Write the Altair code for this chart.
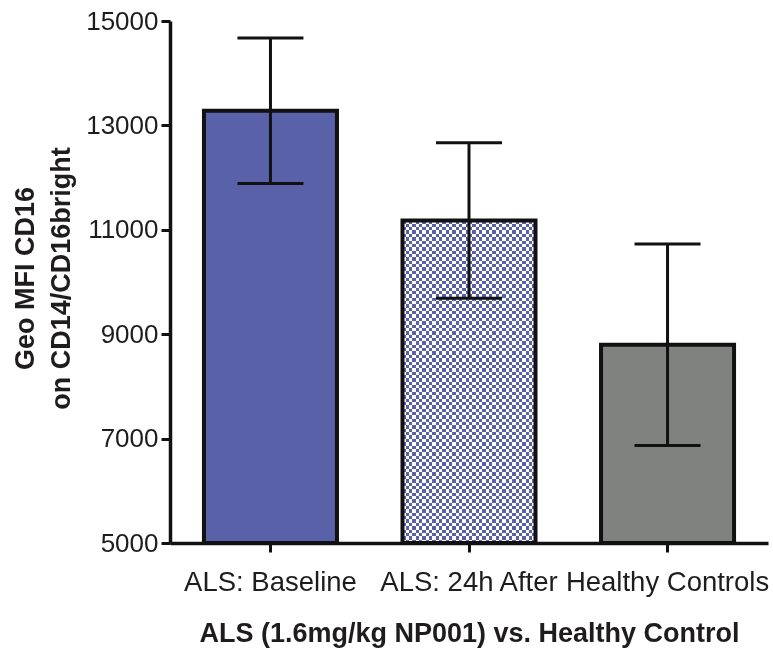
import altair as alt
import pandas as pd

# ---- data ----
categories = ["ALS: Baseline", "ALS: 24h After", "Healthy Controls"]
means = [13280, 11180, 8800]
errors = [1395, 1490, 1930]
y_ticks = [5000, 7000, 9000, 11000, 13000, 15000]

BLUE = "#5961A9"
GRAY = "#808280"
INK = "#1E1C1D"
FONT = "Liberation Sans"

df = pd.DataFrame({"group": categories, "mean": means, "err": errors})

W, H = 598, 522


def stripes(n, vertical):
    stops = []
    for i in range(n):
        c = "white" if i % 2 == 0 else "black"
        stops.append({"offset": i / n, "color": c})
        stops.append({"offset": (i + 1) / n, "color": c})
    g = {"gradient": "linear", "stops": stops}
    if vertical:
        g.update({"x1": 0, "x2": 1, "y1": 0, "y2": 0})
    else:
        g.update({"x1": 0, "x2": 0, "y1": 0, "y2": 1})
    return g


x_enc = alt.X(
    "group:N",
    sort=categories,
    title="ALS (1.6mg/kg NP001) vs. Healthy Control",
    scale=alt.Scale(paddingInner=0.33, paddingOuter=0.171),
    axis=alt.Axis(
        labelAngle=0,
        labelFontSize=27.5,
        labelPadding=16,
        labelLimit=0,
        labelFont=FONT,
        labelColor=INK,
        titleFont=FONT,
        titleFontSize=27,
        titleFontWeight="bold",
        titleColor=INK,
        titleBaseline="alphabetic",
        titleY=98,
        titleX=W / 2,
        titleAnchor="middle",
        tickSize=9,
        tickWidth=3,
        domainWidth=3.5,
    ),
)
y_enc = alt.Y(
    "mean:Q",
    scale=alt.Scale(domain=[5000, 15000], nice=False, zero=False),
    title=["Geo MFI CD16", "on CD14/CD16bright"],
    axis=alt.Axis(
        values=y_ticks,
        format="d",
        labelFontSize=26,
        labelFont=FONT,
        labelColor=INK,
        labelPadding=3,
        tickSize=9,
        tickWidth=3,
        domainWidth=3.5,
        titleFont=FONT,
        titleFontSize=27,
        titleFontWeight="bold",
        titleColor=INK,
        titleLineHeight=36,
        titleAngle=270,
        titleAlign="center",
        titleBaseline="bottom",
        titleX=-131,
        titleY=H / 2 - 4,
        grid=False,
    ),
)

base = alt.Chart(df).encode(x=x_enc)

bars = base.mark_bar().encode(
    y=y_enc,
    y2=alt.datum(5000),
    color=alt.Color(
        "group:N",
        sort=categories,
        scale=alt.Scale(domain=categories, range=[BLUE, "white", GRAY]),
        legend=None,
    ),
)

checker_src = base.transform_filter(alt.datum.group == categories[1])
layer_h = checker_src.mark_bar(fill=stripes(96, False)).encode(
    y="mean:Q", y2=alt.datum(5000)
)
layer_v = checker_src.mark_bar(fill=stripes(40, True), blend="difference").encode(
    y="mean:Q", y2=alt.datum(5000)
)
layer_c = checker_src.mark_bar(fill=BLUE, blend="screen").encode(
    y="mean:Q", y2=alt.datum(5000)
)

outline = base.mark_bar(fillOpacity=0, stroke="#111111", strokeWidth=4).encode(
    y="mean:Q", y2=alt.datum(5000)
)

err_src = base.transform_calculate(
    lo="datum.mean - datum.err", hi="datum.mean + datum.err"
)
stem = err_src.mark_rule(color="#111111", strokeWidth=3).encode(
    y="lo:Q", y2="hi:Q"
)
cap_hi = err_src.mark_tick(color="#111111", thickness=3, size=66, opacity=1).encode(y="hi:Q")
cap_lo = err_src.mark_tick(color="#111111", thickness=3, size=66, opacity=1).encode(y="lo:Q")

chart = (
    alt.layer(bars, layer_h, layer_v, layer_c, outline, stem, cap_hi, cap_lo)
    .properties(
        width=W,
        height=H,
        autosize=alt.AutoSizeParams(type="none"),
        padding={"left": 170, "top": 21, "right": 5, "bottom": 652 - 21 - H},
        background="white",
    )
    .configure_view(stroke=None)
    .configure_axis(domainColor="#111111", tickColor="#111111", grid=False)
)

chart.save("out.html", embed_options={"renderer": "svg", "actions": False})
